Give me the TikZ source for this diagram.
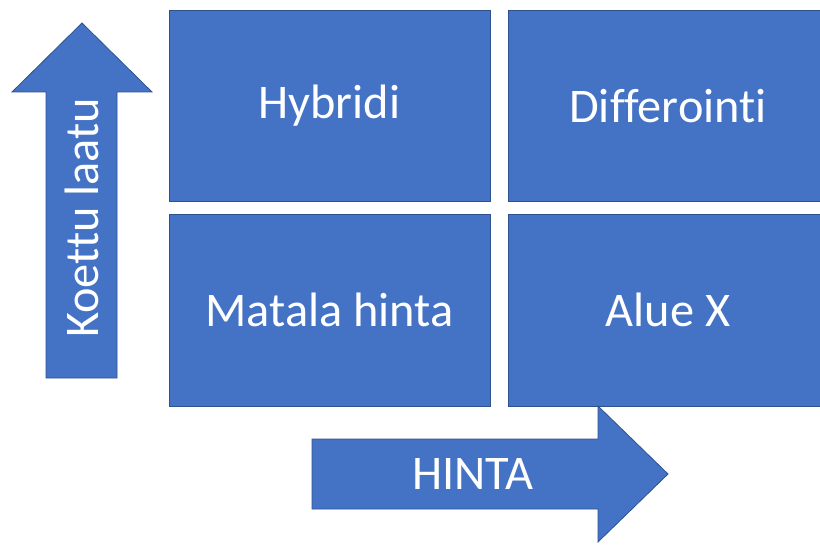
\documentclass[tikz,border=0pt]{standalone}
\usepackage{fontspec}
\setmainfont{Carlito}[Ligatures=NoCommon]
\usepackage{tikz}

\definecolor{boxblue}{HTML}{4472C4}
\definecolor{boxedge}{HTML}{2F528F}

\begin{document}
\begin{tikzpicture}[x=1bp, y=-1bp, inner sep=0pt,
  box/.style={rectangle, draw=boxedge, fill=boxblue, line width=0.8bp,
    minimum width=321bp, minimum height=191bp, text=white,
    font=\fontsize{48.5}{52}\selectfont},
  bigarrow/.style={draw=boxedge, fill=boxblue, line width=0.8bp, line join=miter},
  arrowtext/.style={text=white, font=\fontsize{48.5}{52}\selectfont}]
\useasboundingbox (0,0) rectangle (820,545);
% the four quadrants
\node (hyb) at (329.5,106) [box] {Hybridi};
\node (dif) at (668,106) [box, minimum width=320bp] {Differointi};
\node (mat) at (329.5,310) [box, minimum height=192bp] {Matala hinta};
\node (alx) at (668,310) [box, minimum width=320bp, minimum height=192bp] {Alue X};
% axis arrows
\draw[bigarrow] (46,378) -- (46,92) -- (12,92) -- (82,23) -- (152,92)
  -- (117,92) -- (117,378) -- cycle;
\node (laatu) at (82,218) [arrowtext, rotate=90] {Koettu laatu};
\draw[bigarrow] (312,439) -- (598,439) -- (598,406) -- (668,474)
  -- (598,542) -- (598,509) -- (312,509) -- cycle;
\node (hinta) at (473,474) [arrowtext] {HINTA};
\end{tikzpicture}
\end{document}
